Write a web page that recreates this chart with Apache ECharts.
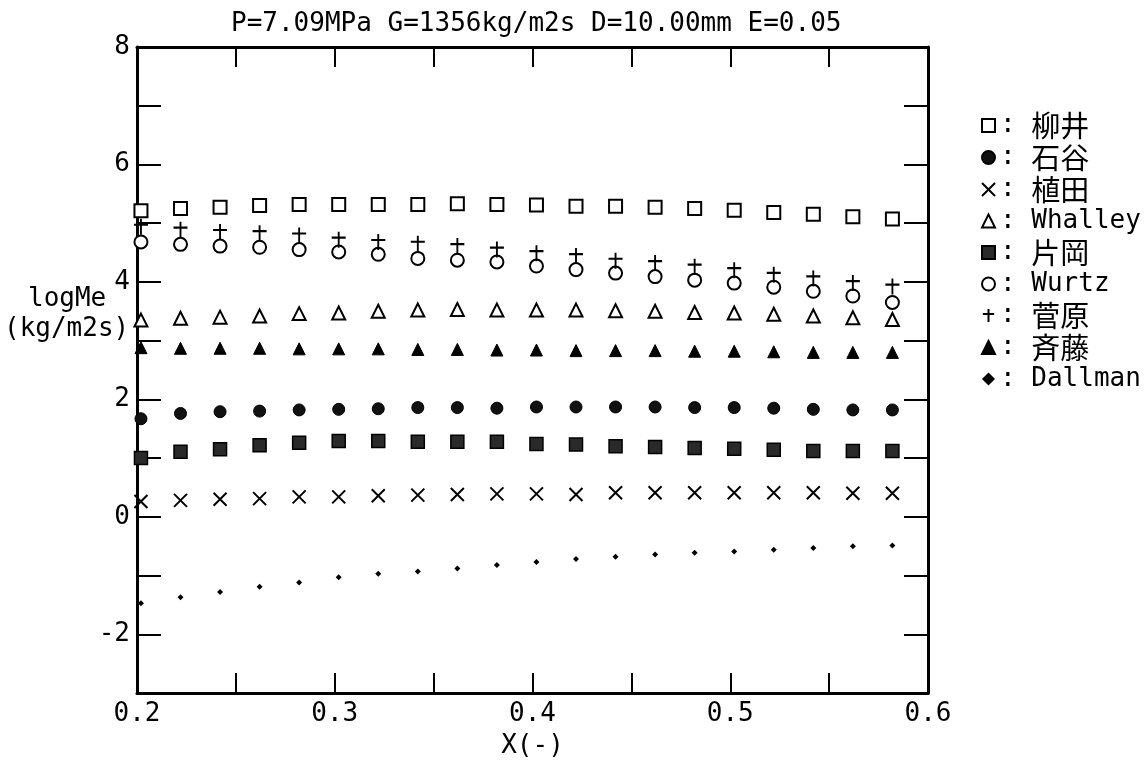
<!DOCTYPE html>
<html><head><meta charset="utf-8">
<script src="https://cdn.jsdelivr.net/npm/echarts@6/dist/echarts.min.js"></script>
<style>html,body{margin:0;padding:0;background:#fff}#c{width:1146px;height:764px}</style>
</head><body><div id="c"></div>
<script>
const xValues = [0.202,0.222,0.242,0.262,0.282,0.302,0.322,0.342,0.362,0.382,0.402,0.422,0.442,0.462,0.482,0.502,0.522,0.542,0.562,0.582];
const yanai   = [5.21,5.25,5.27,5.30,5.32,5.32,5.32,5.32,5.33,5.32,5.31,5.29,5.29,5.27,5.25,5.22,5.18,5.15,5.11,5.07];
const ishitani= [1.67,1.76,1.79,1.80,1.82,1.83,1.84,1.86,1.86,1.85,1.87,1.87,1.87,1.87,1.86,1.86,1.85,1.83,1.82,1.82];
const ueda    = [0.26,0.28,0.30,0.31,0.34,0.34,0.36,0.37,0.38,0.39,0.39,0.38,0.41,0.41,0.41,0.41,0.41,0.41,0.40,0.40];
const whalley = [3.35,3.38,3.40,3.42,3.46,3.47,3.50,3.52,3.53,3.52,3.52,3.52,3.51,3.50,3.48,3.47,3.45,3.42,3.39,3.36];
const kataoka = [1.00,1.11,1.15,1.22,1.26,1.29,1.29,1.28,1.28,1.28,1.24,1.23,1.20,1.19,1.17,1.16,1.14,1.12,1.12,1.12];
const wurtz   = [4.68,4.64,4.61,4.59,4.55,4.51,4.47,4.40,4.37,4.34,4.27,4.21,4.15,4.09,4.03,3.98,3.91,3.84,3.76,3.65];
const sugawara= [4.94,4.89,4.85,4.83,4.79,4.72,4.68,4.65,4.61,4.55,4.49,4.44,4.36,4.32,4.26,4.20,4.12,4.06,3.98,3.92];
const saito   = [2.88,2.87,2.87,2.87,2.86,2.86,2.86,2.85,2.85,2.84,2.84,2.83,2.83,2.83,2.82,2.82,2.81,2.80,2.80,2.80];
const dallman = [-1.47,-1.37,-1.28,-1.19,-1.12,-1.03,-0.97,-0.93,-0.88,-0.82,-0.77,-0.72,-0.68,-0.64,-0.61,-0.59,-0.56,-0.53,-0.50,-0.49];
const seriesNames = ['柳井','石谷','植田','Whalley','片岡','Wurtz','菅原','斉藤','Dallman'];
const xTickLabels = ['0.2','0.3','0.4','0.5','0.6'];
const yTickLabels = ['8','6','4','2','0','-2'];
const titleText = 'P=7.09MPa G=1356kg/m2s D=10.00mm E=0.05';

const FONT = "'DejaVu Sans Mono','Noto Sans CJK JP',monospace";
const values = [yanai,ishitani,ueda,whalley,kataoka,wurtz,sugawara,saito,dallman];
const hollow = {color:'#fff', borderColor:'#000', borderWidth:2, opacity:1};
const lineOnly = {color:'rgba(0,0,0,0)', borderColor:'#000', borderWidth:2, opacity:1};
const styles = [
  {symbol:'rect', size:13, item:hollow},
  {symbol:'circle', size:12, item:{color:'#111', borderColor:'#000', borderWidth:1, opacity:1}},
  {symbol:'path://M0,0L10,10M10,0L0,10', size:13, item:lineOnly},
  {symbol:'triangle', size:13, item:hollow},
  {symbol:'rect', size:13, item:{color:'#2a2a2a', borderColor:'#000', borderWidth:1.5, opacity:1}},
  {symbol:'circle', size:13, item:hollow},
  {symbol:'path://M7,0L7,16M0,6L14,6', size:[14,16], item:lineOnly},
  {symbol:'triangle', size:12, item:{color:'#000', borderColor:'#000', borderWidth:1, opacity:1}},
  {symbol:'diamond', size:6, item:{color:'#000', opacity:1}}
];
const series = seriesNames.map((n,i)=>({
  name:n, type:'scatter', symbol:styles[i].symbol, symbolSize:styles[i].size,
  itemStyle:styles[i].item, xAxisIndex:0, yAxisIndex:0,
  data:xValues.map((x,j)=>[x,values[i][j]])
}));

const axisLine = {show:true, onZero:false, lineStyle:{color:'#000', width:3}};
const tickStyle = {color:'#000', width:2};
const chart = echarts.init(document.getElementById('c'), null, {renderer:'canvas'});
chart.setOption({
  backgroundColor:'#fff',
  animation:false,
  title:{text:titleText, left:226, top:6, textStyle:{fontFamily:FONT, fontSize:26, fontWeight:'normal', color:'#000'}},
  grid:{left:137, right:218, top:47, bottom:71},
  legend:{
    orient:'vertical', left:976, top:106, itemWidth:13, itemHeight:13, itemGap:3,
    data:seriesNames,
    formatter:n=>/^[A-Za-z]/.test(n)?': '+n:': {c|'+n+'}',
    textStyle:{fontFamily:FONT, fontSize:26, color:'#000', lineHeight:28,
      rich:{c:{fontFamily:"'Noto Sans CJK JP'", fontSize:29, lineHeight:28, color:'#000'}}}
  },
  graphic:[
    {type:'text', left:28, top:286, style:{text:'logMe', font:"26px "+FONT, fill:'#000'}},
    {type:'text', left:4, top:316, style:{text:'(kg/m2s)', font:"26px "+FONT, fill:'#000'}}
  ],
  xAxis:[
    {type:'value', min:0.2, max:0.6, interval:0.1, position:'bottom',
     name:'X(-)', nameLocation:'middle', nameGap:40,
     nameTextStyle:{fontFamily:FONT, fontSize:26, color:'#000'},
     axisLine, splitLine:{show:false},
     axisTick:{show:true, inside:true, length:20, lineStyle:tickStyle},
     minorTick:{show:true, splitNumber:2, length:20, lineStyle:tickStyle},
     axisLabel:{fontFamily:FONT, fontSize:26, color:'#000', margin:8,
       formatter:v=>{const s=v.toFixed(1); return xTickLabels.includes(s)?s:'';}}},
    {type:'value', min:0.2, max:0.6, interval:0.1, position:'top',
     axisLine, splitLine:{show:false},
     axisTick:{show:true, inside:true, length:20, lineStyle:tickStyle},
     minorTick:{show:true, splitNumber:2, length:20, lineStyle:tickStyle},
     axisLabel:{show:false}}
  ],
  yAxis:[
    {type:'value', min:-3, max:8, interval:1, position:'left',
     axisLine, splitLine:{show:false},
     axisTick:{show:true, inside:true, length:24, lineStyle:tickStyle},
     axisLabel:{fontFamily:FONT, fontSize:26, color:'#000', margin:7,
       formatter:v=>{const s=String(Math.round(v)); return yTickLabels.includes(s)?s:'';}}},
    {type:'value', min:-3, max:8, interval:1, position:'right',
     axisLine, splitLine:{show:false},
     axisTick:{show:true, inside:true, length:24, lineStyle:tickStyle},
     axisLabel:{show:false}}
  ],
  series
});
</script></body></html>
